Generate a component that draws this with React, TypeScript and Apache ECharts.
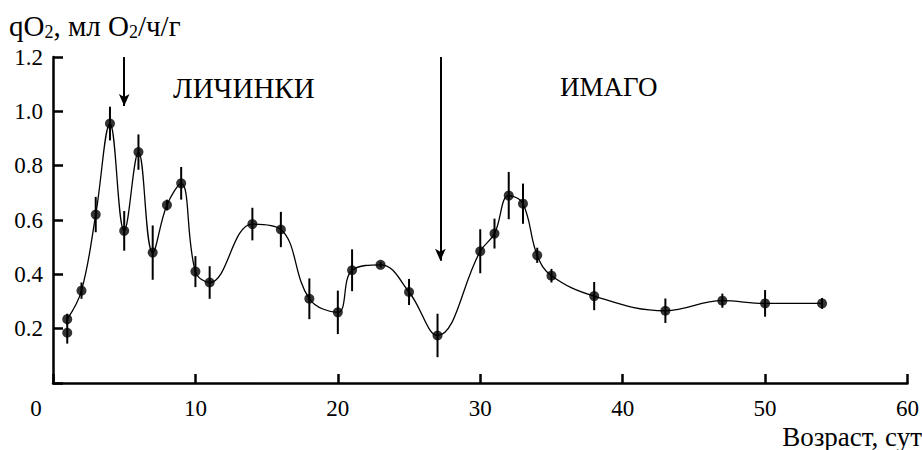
import React, { useEffect, useRef } from "react";
import * as echarts from "echarts";

// Age, days
const days = [1, 1, 2, 3, 4, 5, 6, 7, 8, 9, 10, 11, 14, 16, 18, 20, 21, 23, 25, 27, 30, 31, 32, 33, 34, 35, 38, 43, 47, 50, 54];
// qO2, ml O2/h/g
const qO2 = [0.235, 0.185, 0.34, 0.62, 0.955, 0.56, 0.85, 0.48, 0.655, 0.735, 0.41, 0.37, 0.585, 0.565, 0.31, 0.26, 0.415, 0.435, 0.335, 0.175, 0.485, 0.55, 0.69, 0.66, 0.47, 0.395, 0.32, 0.266, 0.303, 0.293, 0.293];
// error (± half length)
const errs = [0.02, 0.04, 0.03, 0.065, 0.062, 0.073, 0.065, 0.1, 0.02, 0.06, 0.057, 0.06, 0.06, 0.065, 0.075, 0.08, 0.077, 0.01, 0.048, 0.08, 0.081, 0.055, 0.087, 0.074, 0.028, 0.025, 0.052, 0.045, 0.026, 0.049, 0.02];
// points excluded from the fitted curve (index)
const offCurve = [1];

// Arrows: [x, yFrom, yTo]
const arrows = [
  [5, 1.2, 1.02],
  [27.2, 1.2, 0.45],
];

const xTicks = { min: 0, max: 60, interval: 10 };
const yTicks = { min: 0, max: 1.2, interval: 0.2 };

const FONT = "Liberation Serif";

export default function App() {
  const ref = useRef<HTMLDivElement>(null);
  useEffect(() => {
    document.body.style.margin = "0";
    if (!ref.current) return;
    const chart = echarts.init(ref.current, null, { renderer: "svg" });
    const pts = days.map((d, i) => [d, qO2[i]]);
    const curve = pts.filter((_, i) => !offCurve.includes(i));
    const bars = days.map((d, i) => [d, qO2[i] - errs[i], qO2[i] + errs[i]]);
    const ts = (size: number) => ({ fontFamily: FONT, fontSize: size, fontWeight: "normal", color: "#000" });
    chart.setOption({
      animation: false,
      backgroundColor: "#fff",
      textStyle: { fontFamily: FONT, color: "#000" },
      grid: { left: 53, right: 13, top: 57, bottom: 67, containLabel: false },
      title: [
        {
          text: "{a|qO}{s|2}{a|, мл O}{s|2}{a|/ч/г}",
          left: 9,
          top: 11,
          padding: 0,
          textStyle: {
            ...ts(29),
            rich: {
              a: { ...ts(29), lineHeight: 30, verticalAlign: "middle" },
              s: { ...ts(18), lineHeight: 30, verticalAlign: "bottom" },
            },
          },
        },
        { text: "ЛИЧИНКИ", left: 173, top: 73, padding: 0, textStyle: ts(29) },
        { text: "ИМАГО", left: 560, top: 73, padding: 0, textStyle: ts(27) },
        { text: "Возраст, сут", right: 0, top: 423, padding: 0, textStyle: ts(27) },
      ],
      xAxis: {
        type: "value",
        min: xTicks.min,
        max: xTicks.max,
        interval: xTicks.interval,
        splitLine: { show: false },
        axisLine: { show: true, lineStyle: { color: "#000", width: 2.5 } },
        axisTick: { show: true, inside: true, length: 9, lineStyle: { color: "#000", width: 2.5 } },
        axisLabel: {
          margin: 14,
          fontFamily: FONT,
          fontSize: 23,
          color: "#000",
          formatter: (v: number) => (v === 0 ? "{z|0}" : String(v)),
          rich: { z: { fontFamily: FONT, fontSize: 23, color: "#000", padding: [0, 34, 0, 0] } },
        },
      },
      yAxis: {
        type: "value",
        min: yTicks.min,
        max: yTicks.max,
        interval: yTicks.interval,
        splitLine: { show: false },
        axisLine: { show: true, lineStyle: { color: "#000", width: 2.5 } },
        axisTick: { show: true, inside: true, length: 10, lineStyle: { color: "#000", width: 2.5 } },
        axisLabel: {
          margin: 10,
          fontFamily: FONT,
          fontSize: 23,
          color: "#000",
          formatter: (v: number) => (v === 0 ? "" : v.toFixed(1)),
        },
      },
      series: [
        {
          type: "line",
          data: curve,
          smooth: 0.4,
          showSymbol: false,
          lineStyle: { color: "#000", width: 1.3 },
          z: 2,
          markLine: {
            silent: true,
            symbol: ["none", "arrow"],
            symbolSize: [8, 12],
            label: { show: false },
            lineStyle: { color: "#000", width: 2, type: "solid" },
            data: arrows.map((a) => [{ coord: [a[0], a[1]] }, { coord: [a[0], a[2]] }]),
          },
        },
        {
          type: "custom",
          data: bars,
          z: 3,
          renderItem: (params: any, api: any) => {
            const x = api.value(0);
            const p1 = api.coord([x, api.value(1)]);
            const p2 = api.coord([x, api.value(2)]);
            return {
              type: "line",
              shape: { x1: p1[0], y1: p1[1], x2: p2[0], y2: p2[1] },
              style: { stroke: "#000", lineWidth: 2 },
            };
          },
        },
        {
          type: "scatter",
          data: pts,
          symbol: "circle",
          symbolSize: 10,
          itemStyle: { color: "#000" },
          z: 4,
        },
      ],
    });
    return () => chart.dispose();
  }, []);
  return <div ref={ref} style={{ width: 922, height: 450 }} />;
}
